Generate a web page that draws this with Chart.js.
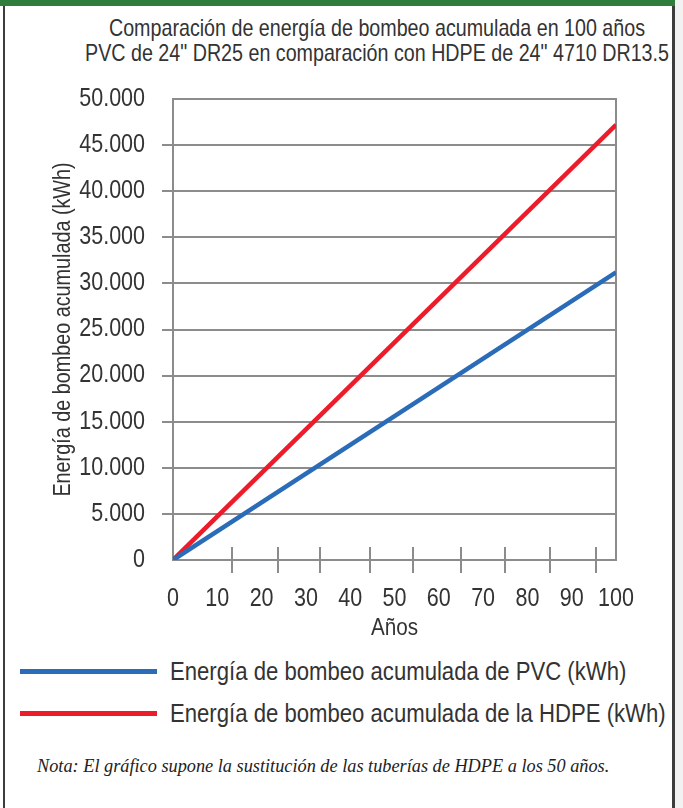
<!DOCTYPE html>
<html lang="es">
<head>
<meta charset="utf-8">
<title>Energía de bombeo acumulada</title>
<script src="https://cdn.jsdelivr.net/npm/chart.js@4.4.1/dist/chart.umd.min.js"></script>
<style>
  html, body { margin: 0; padding: 0; }
  body { width: 683px; height: 808px; background: #f2f2f2; position: relative; overflow: hidden;
         font-family: 'Liberation Sans', Arial, sans-serif; color: #333; }
  #panel { position: absolute; left: 0; top: 0; width: 675px; height: 808px; background: #fff; }
  #panel::before { content: ''; position: absolute; left: 3px; top: 0; width: 2px; height: 808px; background: #3d3d3d; }
  #panel::after { content: ''; position: absolute; left: 672px; top: 0; width: 3px; height: 808px; background: #3d3d3d; }
  #bar { position: absolute; left: 0; top: 0; width: 675px; height: 6px; background: #2f7c3b; z-index: 2; }
  #title { position: absolute; left: -23px; width: 800px; top: 15px; text-align: center; white-space: nowrap;
           font-size: 24px; line-height: 25px; color: #333; transform: scaleX(0.82); transform-origin: 50% 0; }
  #chart { position: absolute; left: 0; top: 0; }
  #legend { position: absolute; left: 20px; top: 650px; }
  .item { display: flex; align-items: center; height: 42px; }
  .swatch { width: 137px; height: 5px; margin-right: 13px; flex: none; }
  .label { font-size: 26.5px; color: #333; white-space: nowrap; transform: scaleX(0.835); transform-origin: 0 50%; }
  #note { position: absolute; left: 37px; top: 756px; font-family: 'Liberation Serif', 'DejaVu Serif', serif;
          font-style: italic; font-size: 18.3px; color: #222; white-space: nowrap; }
</style>
</head>
<body>
<div id="panel"></div>
<div id="bar"></div>
<div id="title">Comparación de energía de bombeo acumulada en 100 años<br>PVC de 24" DR25 en comparación con HDPE de 24" 4710 DR13.5</div>
<canvas id="chart" width="683" height="645"></canvas>
<div id="legend"></div>
<div id="note">Nota: El gráfico supone la sustitución de las tuberías de HDPE a los 50 años.</div>
<script>
// Years of operation and accumulated pumping energy (kWh)
const years = [0, 100];
const pvcEnergy = [0, 31200];
const hdpeEnergy = [0, 47200];

// Axis settings
const yearMin = 0, yearMax = 100, yearStep = 10;
const energyMin = 0, energyMax = 50000, energyStep = 5000;
// Tick marks drawn across the year axis
const markYears = [13.4, 23.7, 33.2, 44.5, 54.2, 65.0, 75.0, 85.1, 95.5];

const seriesNames = ['Energía de bombeo acumulada de PVC (kWh)', 'Energía de bombeo acumulada de la HDPE (kWh)'];
const seriesColors = ['#2b6cb8', '#ec1c2a'];

const FONT = "'Liberation Sans', Arial, sans-serif";
const GRID = '#8c8c8c';
const TEXT = '#333';
const NARROW = 0.86; // horizontal squeeze for a condensed look of canvas text

function thousands(v) {
  return String(v).replace(/\B(?=(\d{3})+(?!\d))/g, '.');
}

// Condensed text: squeeze every canvas label around its own anchor point
const canvas = document.getElementById('chart');
const c2d = canvas.getContext('2d');
const baseFillText = c2d.fillText.bind(c2d);
c2d.fillText = function (text, x, y, maxWidth) {
  this.save();
  this.translate(x, y);
  this.scale(NARROW, 1);
  if (maxWidth === undefined) baseFillText(text, 0, 0);
  else baseFillText(text, 0, 0, maxWidth / NARROW);
  this.restore();
};

const crossTicks = {
  id: 'crossTicks',
  afterDraw(chart) {
    const x = chart.scales.x, ctx = chart.ctx, yb = chart.chartArea.bottom;
    ctx.save();
    ctx.strokeStyle = GRID;
    ctx.lineWidth = 2;
    markYears.forEach(v => {
      const px = Math.round(x.getPixelForValue(v));
      ctx.beginPath();
      ctx.moveTo(px, yb - 13);
      ctx.lineTo(px, yb + 13);
      ctx.stroke();
    });
    ctx.restore();
  }
};

const pts = arr => years.map((y, i) => ({ x: y, y: arr[i] }));

const chart = new Chart(canvas, {
  type: 'line',
  data: {
    datasets: [
      { label: seriesNames[1], data: pts(hdpeEnergy), borderColor: seriesColors[1], backgroundColor: seriesColors[1],
        borderWidth: 4.5, pointRadius: 0, tension: 0, order: 2 },
      { label: seriesNames[0], data: pts(pvcEnergy), borderColor: seriesColors[0], backgroundColor: seriesColors[0],
        borderWidth: 4.5, pointRadius: 0, tension: 0, order: 1 }
    ]
  },
  options: {
    responsive: false,
    devicePixelRatio: 1,
    animation: false,
    layout: { padding: { top: 99, right: 67, left: 0, bottom: 0 } },
    plugins: { legend: { display: false }, tooltip: { enabled: false } },
    scales: {
      x: {
        type: 'linear', min: yearMin, max: yearMax,
        grid: { display: false },
        border: { display: true, color: GRID, width: 2 },
        ticks: { stepSize: yearStep, autoSkip: false, color: TEXT, padding: 16, maxRotation: 0, font: { family: FONT, size: 25 } },
        title: { display: true, text: 'Años', color: TEXT, font: { family: FONT, size: 24 }, padding: { top: 0, bottom: 2 } },
        afterFit(s) { s.height = 85; }
      },
      y: {
        type: 'linear', min: energyMin, max: energyMax,
        grid: { color: GRID, lineWidth: 2, tickLength: 11,
                tickColor: c => (c.tick && (c.tick.value === energyMin || c.tick.value === energyMax)) ? 'rgba(0,0,0,0)' : GRID },
        border: { display: true, color: GRID, width: 2 },
        ticks: { stepSize: energyStep, autoSkip: false, color: TEXT, padding: 17, font: { family: FONT, size: 25 }, callback: v => thousands(v) },
        title: { display: true, text: 'Energía de bombeo acumulada (kWh)', color: TEXT,
                 font: { family: FONT, size: 23 }, padding: { top: 50, bottom: 0 } },
        afterFit(s) { s.width = 173; }
      },
      yr: {
        type: 'linear', position: 'right', min: energyMin, max: energyMax,
        grid: { display: false },
        ticks: { display: false },
        border: { display: true, color: GRID, width: 2 },
        afterFit(s) { s.width = 0; }
      }
    }
  },
  plugins: [crossTicks]
});

// Legend built from the chart's datasets (PVC first)
const legend = document.getElementById('legend');
[...chart.data.datasets].reverse().forEach(ds => {
  const row = document.createElement('div');
  row.className = 'item';
  const sw = document.createElement('div');
  sw.className = 'swatch';
  sw.style.background = ds.borderColor;
  const lb = document.createElement('div');
  lb.className = 'label';
  lb.textContent = ds.label;
  row.appendChild(sw);
  row.appendChild(lb);
  legend.appendChild(row);
});
</script>
</body>
</html>
